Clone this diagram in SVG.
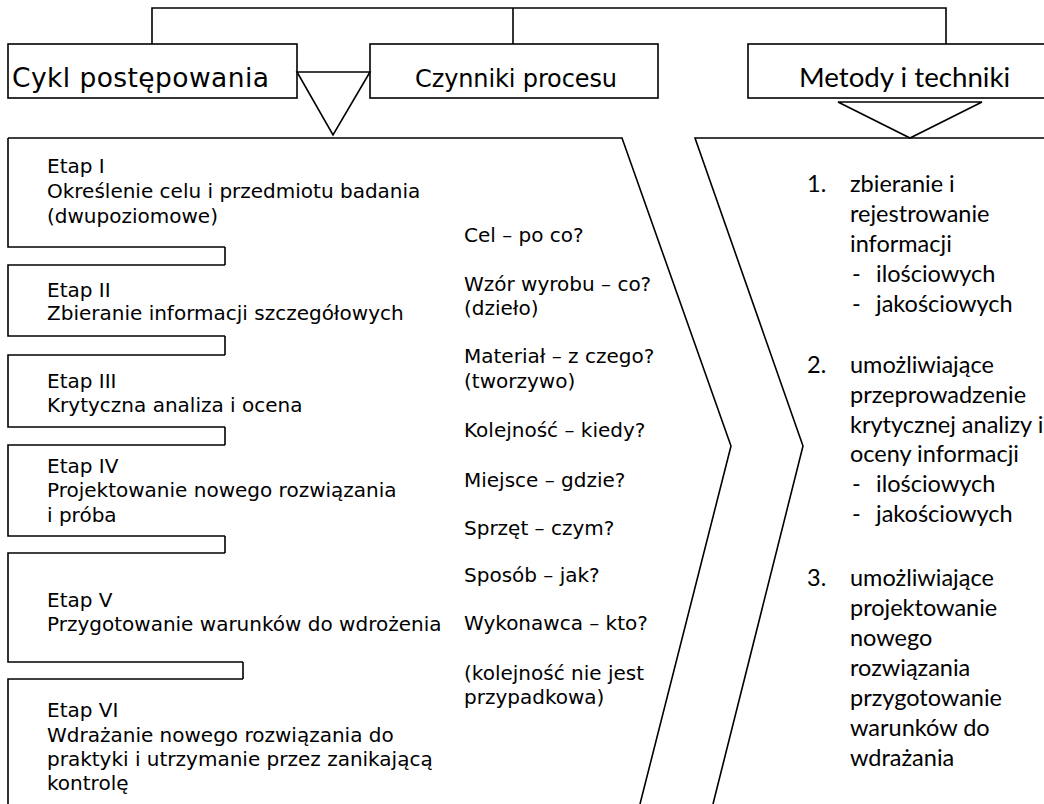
<svg xmlns="http://www.w3.org/2000/svg" width="1044" height="804" viewBox="0 0 1044 804">
<style>
.ln{fill:none;stroke:#000;stroke-width:1.6;stroke-linejoin:miter}
.bx{fill:#fff;stroke:#000;stroke-width:1.6}
.tri{fill:#fff;stroke:#000;stroke-width:1.6;stroke-linejoin:miter}
.hv{font-family:"DejaVu Sans",Verdana,sans-serif;font-size:25.5px;fill:#000}
.hc{font-family:Lato,"Open Sans",sans-serif;font-size:27.7px;fill:#000}
.t{font-family:"DejaVu Sans",Verdana,sans-serif;font-size:20px;fill:#000}
.c{font-family:Lato,"Open Sans",sans-serif;font-size:23.5px;fill:#000}
</style>
<rect width="1044" height="804" fill="#fff"/>
<g id="connectors">
<path class="ln" d="M152,44 V8 H946 V44"/>
<path class="ln" d="M513,8 V44"/>
<path class="ln" d="M225,247 V265"/>
<path class="ln" d="M225,336 V355"/>
<path class="ln" d="M225,427 V445"/>
<path class="ln" d="M225,536 V553"/>
<path class="ln" d="M243,662 V679"/>
</g>
<g id="cykl">
<rect class="bx" x="8" y="44" width="289" height="54"/>
<text class="hv" x="12" y="87" textLength="257" lengthAdjust="spacing" style="font-size:26.5px">Cykl postępowania</text>
</g>
<g id="czynniki">
<rect class="bx" x="370" y="44" width="288" height="54"/>
<text class="hv" x="415" y="87" textLength="202" lengthAdjust="spacing" style="font-size:24px">Czynniki procesu</text>
</g>
<g id="metody">
<rect class="bx" x="748" y="44" width="320" height="54"/>
<text class="hc" x="799" y="87">Metody i techniki</text>
</g>
<g id="arrow-left">
<polygon class="tri" points="297,72 370,72 333,135"/>
</g>
<g id="arrow-right">
<polygon class="tri" points="838,102 982,102 910,138"/>
</g>
<g id="panel-left">
<path class="ln" d="M8,138 H622 L731,446 L640,804"/>
</g>
<g id="panel-right">
<path class="ln" d="M1044,138 H695 L803,446 L713,804"/>
</g>
<g id="etap1">
<path class="ln" d="M8,138 V247 H225"/>
<text class="t" x="47" y="173">Etap I</text>
<text class="t" x="47" y="198">Określenie celu i przedmiotu badania</text>
<text class="t" x="47" y="222.5">(dwupoziomowe)</text>
</g>
<g id="etap2">
<path class="ln" d="M225,265 H8 V336 H225"/>
<text class="t" x="47" y="297">Etap II</text>
<text class="t" x="47" y="320">Zbieranie informacji szczegółowych</text>
</g>
<g id="etap3">
<path class="ln" d="M225,355 H8 V427 H225"/>
<text class="t" x="47" y="388">Etap III</text>
<text class="t" x="47" y="412">Krytyczna analiza i ocena</text>
</g>
<g id="etap4">
<path class="ln" d="M225,445 H8 V536 H225"/>
<text class="t" x="47" y="473">Etap IV</text>
<text class="t" x="47" y="497">Projektowanie nowego rozwiązania</text>
<text class="t" x="47" y="522">i próba</text>
</g>
<g id="etap5">
<path class="ln" d="M225,553 H8 V662 H243"/>
<text class="t" x="47" y="607">Etap V</text>
<text class="t" x="47" y="631">Przygotowanie warunków do wdrożenia</text>
</g>
<g id="etap6">
<path class="ln" d="M243,679 H8 V804"/>
<text class="t" x="47" y="717">Etap VI</text>
<text class="t" x="47" y="742">Wdrażanie nowego rozwiązania do</text>
<text class="t" x="47" y="766">praktyki i utrzymanie przez zanikającą</text>
<text class="t" x="47" y="790">kontrolę</text>
</g>
<g id="czynniki-lista">
<text class="t" x="464" y="242">Cel – po co?</text>
<text class="t" x="464" y="291">Wzór wyrobu – co?</text>
<text class="t" x="464" y="315">(dzieło)</text>
<text class="t" x="464" y="363">Materiał – z czego?</text>
<text class="t" x="464" y="388">(tworzywo)</text>
<text class="t" x="464" y="437">Kolejność – kiedy?</text>
<text class="t" x="464" y="487">Miejsce – gdzie?</text>
<text class="t" x="464" y="535">Sprzęt – czym?</text>
<text class="t" x="464" y="582">Sposób – jak?</text>
<text class="t" x="464" y="630">Wykonawca – kto?</text>
<text class="t" x="464" y="680">(kolejność nie jest</text>
<text class="t" x="464" y="704">przypadkowa)</text>
</g>
<g id="metody-lista">
<text class="c" x="807" y="192">1.</text>
<text class="c" x="850" y="192">zbieranie i</text>
<text class="c" x="850" y="222">rejestrowanie</text>
<text class="c" x="850" y="252">informacji</text>
<text class="c" x="852" y="282">-</text>
<text class="c" x="876" y="282">ilościowych</text>
<text class="c" x="852" y="312">-</text>
<text class="c" x="876" y="312">jakościowych</text>
<text class="c" x="807" y="373">2.</text>
<text class="c" x="850" y="373">umożliwiające</text>
<text class="c" x="850" y="403">przeprowadzenie</text>
<text class="c" x="850" y="433">krytycznej analizy i</text>
<text class="c" x="850" y="462">oceny informacji</text>
<text class="c" x="852" y="492">-</text>
<text class="c" x="876" y="492">ilościowych</text>
<text class="c" x="852" y="522">-</text>
<text class="c" x="876" y="522">jakościowych</text>
<text class="c" x="807" y="586">3.</text>
<text class="c" x="850" y="586">umożliwiające</text>
<text class="c" x="850" y="616">projektowanie</text>
<text class="c" x="850" y="646">nowego</text>
<text class="c" x="850" y="676">rozwiązania</text>
<text class="c" x="850" y="706">przygotowanie</text>
<text class="c" x="850" y="736">warunków do</text>
<text class="c" x="850" y="766">wdrażania</text>
</g>
</svg>
